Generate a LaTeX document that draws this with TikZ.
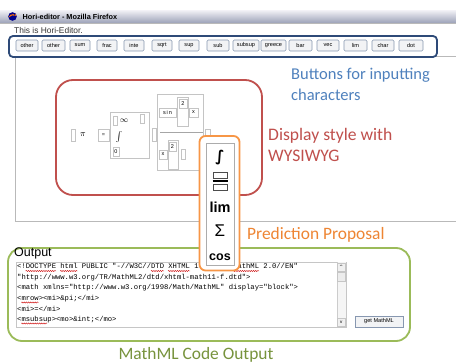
\documentclass[tikz,border=0pt]{standalone}
\usepackage{fontspec}
\setmainfont{Carlito}
\newfontfamily\uifont{Liberation Sans}
\newfontfamily\codefont{Liberation Mono}
\newfontfamily\symfont{DejaVu Sans}
\usetikzlibrary{decorations.pathmorphing}

\definecolor{frameblue}{HTML}{2E4A78}
\definecolor{noteblue}{HTML}{4F81BD}
\definecolor{notered}{HTML}{C0504D}
\definecolor{noteorange}{HTML}{F79646}
\definecolor{textorange}{HTML}{EE8533}
\definecolor{notegreen}{HTML}{9BBB59}
\definecolor{textgreen}{HTML}{77933C}
\definecolor{titletop}{HTML}{ECECF2}
\definecolor{titlebot}{HTML}{9CA2B8}
\definecolor{btnedge}{HTML}{8797B0}
\definecolor{btnfill}{HTML}{F2F3F5}
\definecolor{slotedge}{HTML}{C4C4C4}

\tikzset{
  uibtn/.style={draw=btnedge, fill=btnfill, line width=0.6, rounded corners=1.2,
    minimum height=11, inner sep=0, font=\uifont\fontsize{5.6}{6}\selectfont},
  slot/.style={draw=slotedge, line width=0.6, fill=white},
  tiny/.style={font=\uifont\fontsize{5.5}{6}\selectfont, inner sep=0},
  codeline/.style={anchor=west, inner sep=0, font=\codefont\fontsize{7.2}{8}\selectfont},
  callout/.style={anchor=west, inner sep=0, align=left},
  spell/.style={red!80!black, line width=0.4, decorate,
    decoration={snake, amplitude=0.6, segment length=2.2}}
}

\begin{document}
\begin{tikzpicture}[x=1pt, y=-1pt]
\useasboundingbox (0,0) rectangle (456,363);
\fill[white] (0,0) rectangle (456,363);

% ---- window title bar
\shade[top color=titletop, bottom color=titlebot] (0,11) rectangle (456,23);
\draw[gray!55] (0,23.5) -- (456,23.5);
\fill[blue!55!black] (12.5,16.5) circle (4.3);
\fill[orange!90!red] (8.6,17.5) arc (190:330:4.1) -- (16,14) arc (20:120:2.6) -- cycle;
\node[anchor=west, inner sep=0, font=\uifont\bfseries\fontsize{7.3}{8}\selectfont]
  (title) at (22.5,16.8) {Hori-editor - Mozilla Firefox};

\node[anchor=west, inner sep=0, font=\uifont\fontsize{8.4}{9}\selectfont, text=black!80]
  (intro) at (14,30.5) {This is Hori-Editor.};

% ---- editing panel
\draw[gray!55, line width=0.8] (456,56) -- (15,56) -- (15,221) -- (456,221);

% ---- character buttons
\draw[frameblue, line width=1.8, rounded corners=4] (9,36) rectangle (437,57);
\foreach \lbl/\xa/\xb [count=\i] in {other/16/38, other/42/65, sum/70/90, frac/97/117,
    inte/124/144, sqrt/152/172, sup/179/199, sub/207/229, subsup/233/259,
    greece/261/286, bar/289/312, vec/317/339, lim/344/367, char/372/394, dot/399/423}
  \node[uibtn, minimum width={\xb-\xa}] (btn\i) at ({(\xa+\xb)/2},45.5) {\lbl};

% ---- formula being edited
\draw[notered, line width=1.8, rounded corners=17] (56,80) rectangle (262,195);

\node[slot, minimum width=4, minimum height=12, inner sep=0] (s0) at (73,135) {};
\node[inner sep=0, font=\fontsize{9}{9}\selectfont] (pi) at (83,135) {$\pi$};
\node[slot, minimum width=11, minimum height=12, inner sep=0, tiny] (eq) at (103.5,135) {=};

\draw[slotedge, line width=0.6] (110,112) rectangle (149,158);
\node[slot, minimum width=4, minimum height=9, inner sep=0] (ia) at (115,120.5) {};
\node[inner sep=0, font=\fontsize{8}{8}\selectfont] (inf) at (124,121) {$\infty$};
\node[slot, minimum width=4, minimum height=9, inner sep=0] (ib) at (142,119) {};
\node[inner sep=0, font=\fontsize{10}{10}\selectfont] (intg) at (119,137) {$\int$};
\node[slot, minimum width=6, minimum height=9, inner sep=0, tiny] (lo) at (116,152) {0};

\node[slot, minimum width=4, minimum height=13, inner sep=0] (s1) at (154.5,135) {};

\draw[slotedge, line width=0.6] (157,94) rectangle (203,170);
\node[slot, minimum width=17, minimum height=9, inner sep=0, tiny] (sin) at (167.5,112.5) {s\,i\,n};
\draw[slotedge, line width=0.6] (177.5,97) rectangle (188,126);
\node[slot, minimum width=8, minimum height=9, inner sep=0, tiny] (sup1) at (183,103.5) {2};
\node[slot, minimum width=9, minimum height=9, inner sep=0, tiny] (x1) at (193.5,112.5) {x};
\draw[gray!70, line width=1] (160,133) -- (203,133);
\node[slot, minimum width=4.5, minimum height=8, inner sep=0] (s2) at (208,133.5) {};
\node[slot, minimum width=8, minimum height=9, inner sep=0, tiny] (x2) at (163,154.5) {x};
\draw[slotedge, line width=0.6] (168,140) rectangle (178,169);
\node[slot, minimum width=7, minimum height=9, inner sep=0, tiny] (sup2) at (172.5,146.5) {2};
\node[slot, minimum width=4, minimum height=10, inner sep=0] (s3) at (183,154) {};

% ---- MathML output
\draw[notegreen, line width=1.8, rounded corners=14] (8,248) rectangle (410,341);
\node[anchor=west, inner sep=0, font=\uifont\fontsize{12.5}{13}\selectfont] (outlbl) at (14,253.5) {Output};

\draw[gray!45, line width=0.8] (16,262) rectangle (346,327);
\node[codeline] (l1) at (17,267) {<!DOCTYPE html PUBLIC "-//W3C//DTD XHTML 1.1 plus MathML 2.0//EN"};
\node[codeline] (l2) at (17,277.5) {"http://www.w3.org/TR/MathML2/dtd/xhtml-math11-f.dtd">};
\node[codeline] (l3) at (17,288) {<math xmlns="http://www.w3.org/1998/Math/MathML" display="block">};
\node[codeline] (l4) at (17,298.5) {<mrow><mi>\&pi;</mi>};
\node[codeline] (l5) at (17,309) {<mi>=</mi>};
\node[codeline] (l6) at (17,319.5) {<msubsup><mo>\&int;</mo>};
% spell-check marks
\draw[spell] (25.6,271) -- (56,271);
\draw[spell] (60.2,271) -- (77.5,271);
\draw[spell] (151,271) -- (164,271);
\draw[spell] (168,271) -- (190,271);
\draw[spell] (233,271) -- (259,271);
\draw[spell] (21.3,302.5) -- (38.6,302.5);
\draw[spell] (21.3,323.5) -- (47.2,323.5);

% scroll bar
\fill[gray!8] (337,262.5) rectangle (345.6,326.6);
\draw[gray!40, line width=0.5] (337,262.5) -- (337,326.6);
\node[draw=gray!45, fill=gray!12, minimum width=8, minimum height=8, inner sep=0,
  font=\symfont\fontsize{4.5}{5}\selectfont] (up) at (341.3,267) {\^{}};
\node[draw=gray!45, fill=gray!15, minimum width=8, minimum height=9, inner sep=0] (thumb) at (341.3,276.5) {};
\node[draw=gray!45, fill=gray!12, minimum width=8, minimum height=8, inner sep=0,
  font=\symfont\fontsize{4.5}{5}\selectfont] (down) at (341.3,322.5) {v};

\node[draw=btnedge, fill=btnfill, line width=0.7, minimum width=48, minimum height=11,
  inner sep=0, font=\uifont\fontsize{5.6}{6}\selectfont] (getml) at (379,321.5) {get MathML};

% ---- prediction pop-up
\draw[noteorange, line width=1.8, rounded corners=6, fill=white] (199.5,136) rectangle (239.5,270.5);
\draw[gray!65, line width=0.8, fill=white] (206,143) rectangle (234,265);
\node[inner sep=0, font=\symfont\bfseries\fontsize{15}{15}\selectfont] (p1) at (220,158) {∫};
\draw[black!70, line width=0.7] (213.5,172) rectangle (227,178);
\draw[black, line width=1.3] (212.5,181) -- (228,181);
\draw[black!70, line width=0.7] (213.5,184) rectangle (227,190.5);
\node[inner sep=0, font=\uifont\bfseries\fontsize{14.5}{15}\selectfont] (p3) at (220,207.5) {lim};
\node[inner sep=0, font=\uifont\fontsize{17}{17}\selectfont] (p4) at (220,231) {Σ};
\node[inner sep=0, font=\uifont\bfseries\fontsize{12.5}{13}\selectfont] (p5) at (220,257.5) {cos};

% ---- callout labels
\node[callout, text=noteblue, font=\fontsize{16.5}{20.5}\selectfont] (nbtn) at (291,84.5) {Buttons for inputting\\characters};
\node[callout, text=notered, font=\fontsize{17.6}{21}\selectfont] (ndisp) at (268,145) {Display style with\\WYSIWYG};
\node[callout, text=textorange, font=\fontsize{17.4}{18}\selectfont] (npred) at (247,234.5) {Prediction Proposal};
\node[inner sep=0, font=\fontsize{17.4}{18}\selectfont, text=textgreen] (nout) at (196,355) {MathML Code Output};
\end{tikzpicture}
\end{document}
